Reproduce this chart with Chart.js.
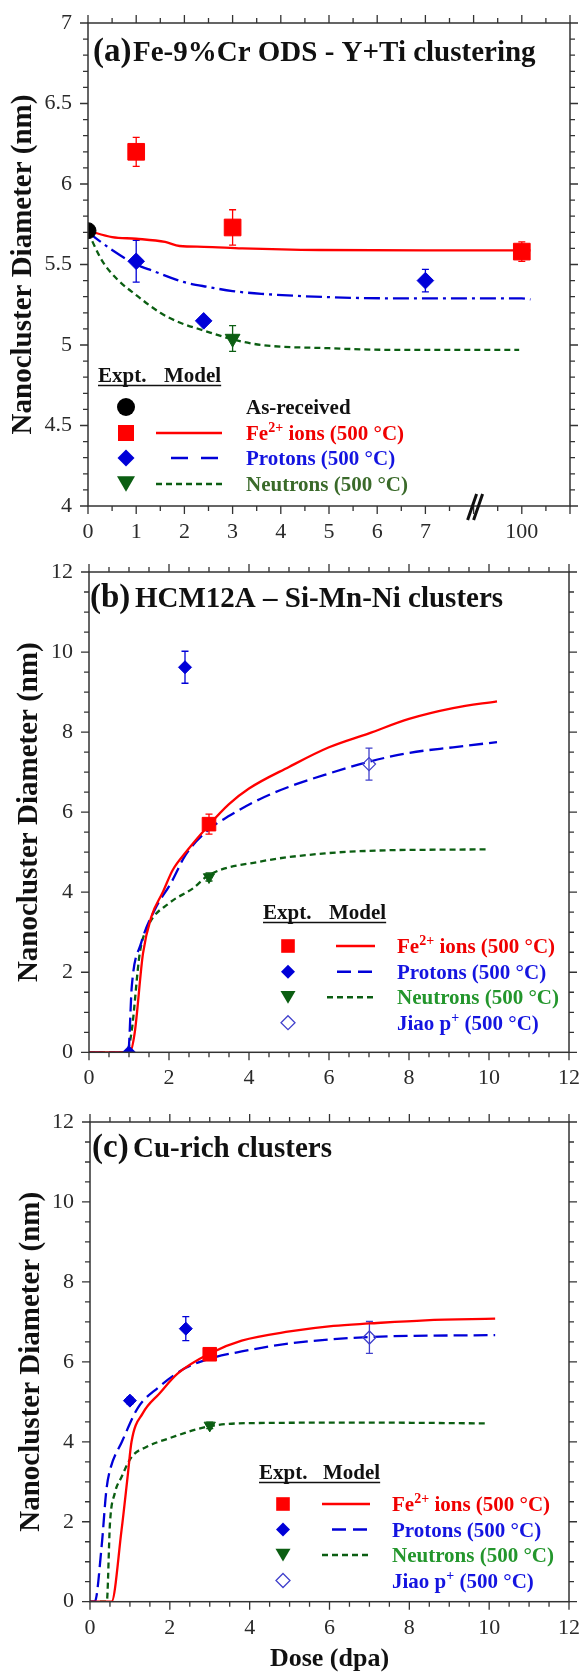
<!DOCTYPE html>
<html>
<head>
<meta charset="utf-8">
<script src="https://cdn.jsdelivr.net/npm/chart.js@4.4.1/dist/chart.umd.min.js"></script>
<style>
  html, body { margin: 0; padding: 0; background: #fff; }
  body { width: 585px; height: 1672px; position: relative; overflow: hidden; }
  .panel { position: absolute; left: 0; width: 585px; }
</style>
</head>
<body>
<div class="panel" style="top:0;height:545px"><canvas id="chartA"></canvas></div>
<div class="panel" style="top:545px;height:550px"><canvas id="chartB"></canvas></div>
<div class="panel" style="top:1095px;height:577px"><canvas id="chartC"></canvas></div>
<script>
// ---- (a) Fe-9%Cr ODS, Y+Ti clustering (dose in dpa, 100 dpa sits past the axis break)
const aAsRecX = [0];
const aAsRecY = [5.71];
const aFeX = [1, 3, 100];
const aFeY = [6.20, 5.73, 5.58];
const aFeErr = [0.09, 0.11, 0.06];
const aProX = [1, 2.4, 7];
const aProY = [5.52, 5.15, 5.40];
const aProErr = [0.13, 0.02, 0.07];
const aNeuX = [3];
const aNeuY = [5.04];
const aNeuErr = [0.08];
const aFeModelX = [0, 0.5, 1, 1.6, 1.9, 2.4, 3.2, 4.8, 7, 100, 109];
const aFeModelY = [5.71, 5.67, 5.66, 5.64, 5.615, 5.61, 5.60, 5.59, 5.588, 5.588, 5.588];
const aProModelX = [0, 0.5, 1, 1.35, 2.0, 2.5, 3.0, 3.6, 5.0, 6.3, 7, 100, 109];
const aProModelY = [5.70, 5.59, 5.50, 5.46, 5.39, 5.36, 5.335, 5.318, 5.297, 5.29, 5.29, 5.289, 5.283];
const aNeuModelX = [0, 0.3, 0.6, 1.0, 1.5, 1.9, 2.4, 3.0, 3.6, 5.0, 6.3, 7, 95];
const aNeuModelY = [5.70, 5.52, 5.41, 5.31, 5.20, 5.14, 5.09, 5.035, 5.00, 4.98, 4.97, 4.97, 4.97];
const aXTickLabels = ['0', '1', '2', '3', '4', '5', '6', '7', '', '100', ''];

// ---- (b) HCM12A, Si-Mn-Ni clusters
const bFeX = [3];
const bFeY = [5.70];
const bFeErr = [0.25];
const bProX = [1, 2.4];
const bProY = [0, 9.62];
const bProErr = [0, 0.4];
const bNeuX = [3];
const bNeuY = [4.38];
const bNeuErr = [0.1];
const bJiaoX = [7];
const bJiaoY = [7.2];
const bJiaoErr = [0.4];
const bFeModelX = [0, 1.02, 1.14, 1.35, 1.56, 1.85, 2.09, 2.43, 3.0, 3.5, 4.0, 5.0, 6.0, 7.0, 8.0, 9.1, 10.2];
const bFeModelY = [0, 0, 0.47, 2.47, 3.39, 4.01, 4.55, 5.01, 5.68, 6.2, 6.59, 7.13, 7.62, 7.97, 8.33, 8.6, 8.77];
const bProModelX = [0, 0.98, 1.07, 1.30, 1.67, 2.05, 2.42, 3.0, 3.53, 4.28, 5.02, 5.95, 7.0, 8.0, 9.1, 10.2];
const bProModelY = [0, 0, 1.65, 2.72, 3.61, 4.23, 4.94, 5.57, 5.92, 6.33, 6.64, 6.95, 7.26, 7.48, 7.62, 7.75];
const bNeuModelX = [0, 0.93, 1.06, 1.27, 1.47, 2.01, 2.59, 3.0, 4.25, 5.9, 7.55, 8.5, 9.95];
const bNeuModelY = [0, 0, 0.48, 2.48, 3.14, 3.73, 4.09, 4.43, 4.76, 4.97, 5.05, 5.06, 5.07];

// ---- (c) Cu-rich clusters
const cFeX = [3];
const cFeY = [6.19];
const cFeErr = [0.1];
const cProX = [1, 2.4];
const cProY = [5.03, 6.83];
const cProErr = [0.08, 0.3];
const cNeuX = [3];
const cNeuY = [4.41];
const cNeuErr = [0.08];
const cJiaoX = [7];
const cJiaoY = [6.61];
const cJiaoErr = [0.4];
const cFeModelX = [0, 0.54, 0.79, 0.95, 1.04, 1.32, 1.74, 2.2, 3.0, 3.8, 5.0, 6.1, 7.0, 8.4, 10.15];
const cFeModelY = [0, 0, 1.79, 3.2, 4.0, 4.71, 5.21, 5.71, 6.21, 6.53, 6.76, 6.9, 6.96, 7.04, 7.08];
const cProModelX = [0, 0.12, 0.29, 0.41, 0.5, 0.8, 1.2, 1.7, 2.4, 3.0, 3.8, 5.0, 7.0, 10.15];
const cProModelY = [0, 0, 1.37, 2.79, 3.29, 4.0, 4.85, 5.35, 5.85, 6.08, 6.26, 6.46, 6.62, 6.67];
const cNeuModelX = [0, 0.42, 0.5, 0.62, 0.79, 1.04, 1.41, 1.99, 2.99, 4.24, 7.0, 9.95];
const cNeuModelY = [0, 0, 1.96, 2.71, 3.12, 3.62, 3.87, 4.09, 4.39, 4.47, 4.48, 4.46];

const SERIF = '"Liberation Serif", "Times New Roman", serif';
const RED = '#ff0000';
const BLUE = '#0000d8';
const GREEN = '#0b5e12';
const TXT_BLUE = '#1414e0';

// broken x axis of panel (a): 0-8 linear, 100 dpa placed at position 9
function aPos(d) {
  if (d <= 8) return d;
  if (d <= 100) return 8 + (d - 8) / 92;
  return 9 + (d - 100) / 50;
}

function pts(xs, ys, map) {
  return xs.map((x, i) => ({ x: map ? map(x) : x, y: ys[i] }));
}

function markers(xs, ys, err, style, color, r, extra, map) {
  return Object.assign({
    data: pts(xs, ys, map), err: err, errColor: color, showLine: false,
    pointStyle: style, pointRadius: r, pointBackgroundColor: color,
    pointBorderColor: color, pointBorderWidth: 1, order: 0
  }, extra || {});
}

function curve(xs, ys, color, dash, map) {
  return {
    data: pts(xs, ys, map), showLine: true, pointRadius: 0, borderColor: color,
    borderWidth: 2.3, borderDash: dash, cubicInterpolationMode: 'monotone',
    fill: false, order: 1
  };
}

const errorBars = {
  id: 'errorBars',
  beforeDatasetsDraw(chart) {
    const { ctx, scales: { x, y } } = chart;
    chart.data.datasets.forEach((ds) => {
      if (!ds.err) return;
      ctx.save();
      ctx.strokeStyle = ds.errColor;
      ctx.lineWidth = 1.3;
      ds.data.forEach((p, i) => {
        const e = ds.err[i];
        if (!e) return;
        const px = x.getPixelForValue(p.x);
        const y0 = y.getPixelForValue(p.y - e);
        const y1 = y.getPixelForValue(p.y + e);
        ctx.beginPath();
        ctx.moveTo(px, y0); ctx.lineTo(px, y1);
        ctx.moveTo(px - 3.5, y0); ctx.lineTo(px + 3.5, y0);
        ctx.moveTo(px - 3.5, y1); ctx.lineTo(px + 3.5, y1);
        ctx.stroke();
      });
      ctx.restore();
    });
  }
};

function shape(ctx, kind, cx, cy, color, s) {
  ctx.save();
  ctx.fillStyle = color;
  ctx.strokeStyle = color;
  ctx.beginPath();
  if (kind === 'circle') {
    ctx.arc(cx, cy, s, 0, Math.PI * 2); ctx.fill();
  } else if (kind === 'rect') {
    ctx.fillRect(cx - s, cy - s, 2 * s, 2 * s);
  } else if (kind === 'diamond' || kind === 'open') {
    ctx.moveTo(cx, cy - s); ctx.lineTo(cx + s, cy); ctx.lineTo(cx, cy + s); ctx.lineTo(cx - s, cy);
    ctx.closePath();
    if (kind === 'open') { ctx.lineWidth = 1.3; ctx.stroke(); } else ctx.fill();
  } else if (kind === 'tri') {
    ctx.moveTo(cx - s, cy - s * 0.85); ctx.lineTo(cx + s, cy - s * 0.85); ctx.lineTo(cx, cy + s * 0.85);
    ctx.closePath(); ctx.fill();
  }
  ctx.restore();
}

function richText(ctx, parts, x, y, color, size) {
  ctx.fillStyle = color;
  let cx = x;
  parts.forEach(([t, sup]) => {
    ctx.font = 'bold ' + (sup ? Math.round(size * 0.65) : size) + 'px ' + SERIF;
    ctx.fillText(t, cx, sup ? y - size * 0.38 : y);
    cx += ctx.measureText(t).width;
  });
}

const panelDeco = {
  id: 'panel',
  afterDraw(chart, args, o) {
    const { ctx, chartArea: a, scales: { x, y } } = chart;
    ctx.save();
    // frame and ticks on all four sides
    ctx.strokeStyle = '#333';
    ctx.lineWidth = 1.5;
    ctx.strokeRect(a.left, a.top, a.right - a.left, a.bottom - a.top);
    ctx.lineWidth = 1.3;
    ctx.beginPath();
    const nx = Math.round((x.max - x.min) / o.xMinor);
    for (let i = 0; i <= nx; i++) {
      const v = x.min + i * o.xMinor;
      const px = x.getPixelForValue(v);
      const L = Math.abs(v / o.xMajor - Math.round(v / o.xMajor)) < 1e-6 ? 8 : 5;
      ctx.moveTo(px, a.bottom); ctx.lineTo(px, a.bottom + L);
      ctx.moveTo(px, a.top); ctx.lineTo(px, a.top - L);
    }
    const ny = Math.round((y.max - y.min) / o.yMinor);
    for (let i = 0; i <= ny; i++) {
      const v = y.min + i * o.yMinor;
      const py = y.getPixelForValue(v);
      const L = Math.abs(v / o.yMajor - Math.round(v / o.yMajor)) < 1e-6 ? 8 : 5;
      ctx.moveTo(a.left, py); ctx.lineTo(a.left - L, py);
      ctx.moveTo(a.right, py); ctx.lineTo(a.right + L, py);
    }
    ctx.stroke();
    if (o.breakAt != null) {
      const bx = x.getPixelForValue(o.breakAt) + 2;
      ctx.strokeStyle = '#111';
      ctx.lineWidth = 3;
      ctx.beginPath();
      [-3, 3].forEach((dx) => {
        ctx.moveTo(bx + dx - 5, a.bottom + 14);
        ctx.lineTo(bx + dx + 4, a.bottom - 12);
      });
      ctx.stroke();
    }
    // panel title
    ctx.fillStyle = '#111';
    ctx.textBaseline = 'alphabetic';
    ctx.font = 'bold 33px ' + SERIF;
    ctx.fillText(o.tag, o.tagX, o.titleY);
    ctx.font = 'bold 29px ' + SERIF;
    ctx.fillText(o.title, o.titleX, o.titleY);
    // legend
    const g = o.legend;
    ctx.font = 'bold 21px ' + SERIF;
    ctx.fillText('Expt.', g.headX, g.headY);
    ctx.fillText('Model', g.modelX, g.headY);
    const w = ctx.measureText('Model').width;
    ctx.strokeStyle = '#111';
    ctx.lineWidth = 1.5;
    ctx.beginPath();
    ctx.moveTo(g.headX, g.headY + 3.5); ctx.lineTo(g.modelX + w, g.headY + 3.5);
    ctx.stroke();
    g.rows.forEach((r, i) => {
      const cy = g.rowY[i];
      shape(ctx, r.kind, g.markX, cy, r.color, r.size);
      if (r.line) {
        ctx.save();
        ctx.strokeStyle = r.line.color;
        ctx.lineWidth = 2.5;
        ctx.setLineDash(r.line.dash);
        ctx.beginPath();
        ctx.moveTo(r.line.x0, cy); ctx.lineTo(r.line.x1, cy);
        ctx.stroke();
        ctx.restore();
      }
      richText(ctx, r.text, g.textX, cy + 7, r.textColor, 21);
    });
    ctx.restore();
  }
};

function axisTitle(text, size, pad, pos) {
  return {
    display: true, text: text, color: '#111',
    font: { family: SERIF, size: size, weight: 'bold', lineHeight: pos === 'x' ? 1.0 : 1.2 },
    padding: pos === 'x' ? { top: 0, bottom: pad } : { top: pad, bottom: 0 }
  };
}

function makeChart(id, cfg) {
  const tickFont = { family: SERIF, size: 22 };
  return new Chart(document.getElementById(id), {
    type: 'scatter',
    data: { datasets: cfg.datasets },
    options: {
      responsive: true, maintainAspectRatio: false, animation: false, events: [],
      layout: { padding: { top: cfg.top, right: cfg.right, left: 0, bottom: 0 } },
      plugins: { legend: { display: false }, tooltip: { enabled: false }, panel: cfg.panel },
      scales: {
        x: {
          type: 'linear', min: cfg.xMin, max: cfg.xMax,
          afterFit: (s) => { s.height = cfg.xH; },
          ticks: { stepSize: cfg.panel.xMajor, autoSkip: false, maxRotation: 0, padding: 5,
                   font: tickFont, color: '#2a2a2a', callback: cfg.xLabel },
          grid: { drawOnChartArea: false, tickLength: 8, tickColor: 'transparent' },
          border: { display: false },
          title: cfg.xTitle || { display: false }
        },
        y: {
          type: 'linear', min: cfg.yMin, max: cfg.yMax,
          afterFit: (s) => { s.width = cfg.yW; },
          ticks: { stepSize: cfg.yStep, autoSkip: false, padding: 8, font: tickFont, color: '#2a2a2a',
                   callback: (v) => String(Math.round(v * 10) / 10) },
          grid: { drawOnChartArea: false, tickLength: 8, tickColor: 'transparent' },
          border: { display: false },
          title: axisTitle('Nanocluster Diameter (nm)', 29, cfg.yTitlePad, 'y')
        }
      }
    },
    plugins: [errorBars, panelDeco]
  });
}

function legendRows(sz, lines, neuColor, withJiao, withAsRec) {
  const rows = [];
  if (withAsRec) rows.push({ kind: 'circle', size: sz.circle, color: '#000', text: [['As-received', 0]], textColor: '#111' });
  rows.push({ kind: 'rect', size: sz.rect, color: RED, line: { color: RED, dash: [], x0: lines.red[0], x1: lines.red[1] },
              text: [['Fe', 0], ['2+', 1], [' ions (500 \u00B0C)', 0]], textColor: '#f00000' });
  rows.push({ kind: 'diamond', size: sz.dia, color: BLUE, line: { color: BLUE, dash: lines.blueDash, x0: lines.blue[0], x1: lines.blue[1] },
              text: [['Protons (500 \u00B0C)', 0]], textColor: TXT_BLUE });
  rows.push({ kind: 'tri', size: sz.tri, color: GREEN, line: { color: GREEN, dash: [6, 4], x0: lines.green[0], x1: lines.green[1] },
              text: [['Neutrons (500 \u00B0C)', 0]], textColor: neuColor });
  if (withJiao) rows.push({ kind: 'open', size: sz.dia, color: '#4040cc', text: [['Jiao p', 0], ['+', 1], [' (500 \u00B0C)', 0]], textColor: TXT_BLUE });
  return rows;
}

// ---------- panel (a)
makeChart('chartA', {
  top: 23, right: 15, yW: 88, xH: 39, xMin: 0, xMax: 10, yMin: 4, yMax: 7, yStep: 0.5, yTitlePad: 6,
  xLabel: (v) => aXTickLabels[Math.round(v)],
  panel: {
    xMajor: 1, xMinor: 0.5, yMajor: 0.5, yMinor: 0.1, breakAt: 8,
    tag: '(a)', tagX: 93, title: 'Fe-9%Cr ODS - Y+Ti clustering', titleX: 133, titleY: 61,
    legend: {
      headX: 98, modelX: 164, headY: 382, markX: 126, textX: 246, rowY: [407, 433, 458, 484],
      rows: legendRows({ circle: 9, rect: 8, dia: 8.5, tri: 9 },
        { red: [156, 222], blue: [171, 222], blueDash: [17, 13], green: [156, 222] }, '#3a6a2a', false, true)
    }
  },
  datasets: [
    markers(aAsRecX, aAsRecY, null, 'circle', '#000', 8, {}, aPos),
    markers(aFeX, aFeY, aFeErr, 'rect', RED, 11.8, {}, aPos),
    markers(aProX, aProY, aProErr, 'rectRot', BLUE, 8.3, {}, aPos),
    markers(aNeuX, aNeuY, aNeuErr, 'triangle', GREEN, 8.5, { pointRotation: 180 }, aPos),
    curve(aFeModelX, aFeModelY, RED, [], aPos),
    curve(aProModelX, aProModelY, BLUE, [16, 5, 3, 5], aPos),
    curve(aNeuModelX, aNeuModelY, GREEN, [6, 4], aPos)
  ]
});

// ---------- panel (b)
makeChart('chartB', {
  top: 27, right: 13, yW: 89, xH: 42.7, xMin: 0, xMax: 12, yMin: 0, yMax: 12, yStep: 2, yTitlePad: 12,
  xLabel: (v) => String(v),
  panel: {
    xMajor: 2, xMinor: 0.5, yMajor: 2, yMinor: 0.5,
    tag: '(b)', tagX: 90, title: 'HCM12A \u2013 Si-Mn-Ni clusters', titleX: 135, titleY: 62,
    legend: {
      headX: 263, modelX: 329, headY: 374, markX: 288, textX: 397, rowY: [401, 426.7, 452.3, 477.7],
      rows: legendRows({ rect: 6.8, dia: 7, tri: 7.5 },
        { red: [336, 375], blue: [337, 373], blueDash: [14, 7], green: [327, 375] }, '#23962c', true, false)
    }
  },
  datasets: [
    markers(bFeX, bFeY, bFeErr, 'rect', RED, 9.6),
    markers(bProX, bProY, bProErr, 'rectRot', BLUE, 6.5),
    markers(bNeuX, bNeuY, bNeuErr, 'triangle', GREEN, 6.5, { pointRotation: 180 }),
    markers(bJiaoX, bJiaoY, bJiaoErr, 'rectRot', '#4040cc', 6.5, { pointBackgroundColor: 'rgba(255,255,255,0)', pointBorderWidth: 1.3 }),
    curve(bFeModelX, bFeModelY, RED, []),
    curve(bProModelX, bProModelY, BLUE, [14, 6]),
    curve(bNeuModelX, bNeuModelY, GREEN, [6, 4])
  ]
});

// ---------- panel (c)
makeChart('chartC', {
  top: 27, right: 12.7, yW: 90, xH: 70.3, xMin: 0, xMax: 12, yMin: 0, yMax: 12, yStep: 2, yTitlePad: 14,
  xLabel: (v) => String(v),
  xTitle: axisTitle('Dose (dpa)', 26, 0, 'x'),
  panel: {
    xMajor: 2, xMinor: 0.5, yMajor: 2, yMinor: 0.5,
    tag: '(c)', tagX: 92, title: 'Cu-rich clusters', titleX: 133, titleY: 62,
    legend: {
      headX: 259, modelX: 323, headY: 384, markX: 283, textX: 392, rowY: [409, 434.5, 460, 485.5],
      rows: legendRows({ rect: 6.8, dia: 7, tri: 7.5 },
        { red: [322, 370], blue: [332, 367], blueDash: [14, 7], green: [322, 370] }, '#23962c', true, false)
    }
  },
  datasets: [
    markers(cFeX, cFeY, cFeErr, 'rect', RED, 9.6),
    markers(cProX, cProY, cProErr, 'rectRot', BLUE, 6.5),
    markers(cNeuX, cNeuY, cNeuErr, 'triangle', GREEN, 6.5, { pointRotation: 180 }),
    markers(cJiaoX, cJiaoY, cJiaoErr, 'rectRot', '#4040cc', 6.5, { pointBackgroundColor: 'rgba(255,255,255,0)', pointBorderWidth: 1.3 }),
    curve(cFeModelX, cFeModelY, RED, []),
    curve(cProModelX, cProModelY, BLUE, [14, 6]),
    curve(cNeuModelX, cNeuModelY, GREEN, [6, 4])
  ]
});
</script>
</body>
</html>
